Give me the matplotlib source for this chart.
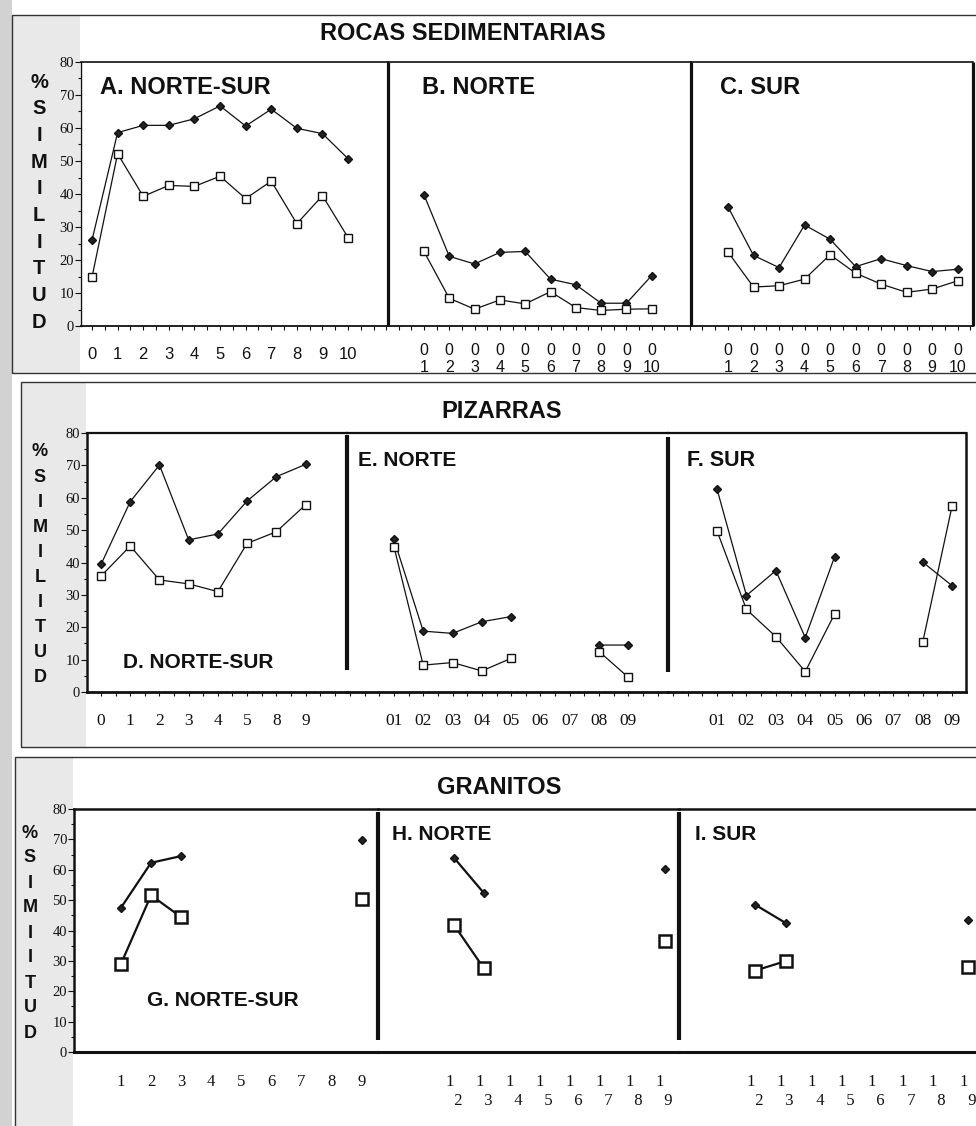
#!/usr/bin/env python3
"""Similitud (%) entre tramos: rocas sedimentarias, pizarras y granitos."""
import numpy as np
import matplotlib

matplotlib.use("Agg")
import matplotlib.pyplot as plt
from matplotlib.patches import Rectangle
from matplotlib.ticker import MultipleLocator, FixedLocator

nan = np.nan

# --- data -----------------------------------------------------------------
A_LABELS = [str(i) for i in range(11)]
A_DIAMOND = [26, 58.6, 60.8, 60.8, 62.8, 66.7, 60.6, 65.7, 59.9, 58.3, 50.7]
A_SQUARE = [14.8, 52.2, 39.3, 42.6, 42.3, 45.4, 38.6, 43.9, 31.0, 39.5, 26.8]

BC_LABELS = ["0\n%d" % i for i in range(1, 11)]
B_DIAMOND = [39.8, 21.1, 18.8, 22.3, 22.6, 14.2, 12.5, 6.9, 6.9, 15.3]
B_SQUARE = [22.6, 8.4, 5.1, 7.9, 6.7, 10.4, 5.6, 4.7, 5.1, 5.2]
C_DIAMOND = [36.1, 21.4, 17.7, 30.6, 26.3, 18.0, 20.4, 18.3, 16.5, 17.2]
C_SQUARE = [22.4, 11.8, 12.2, 14.2, 21.6, 16.0, 12.7, 10.2, 11.2, 13.7]

D_LABELS = ["0", "1", "2", "3", "4", "5", "8", "9"]
D_DIAMOND = [39.4, 58.8, 70.1, 47.0, 48.8, 59.0, 66.5, 70.3]
D_SQUARE = [35.8, 45.1, 34.6, 33.4, 31.0, 45.9, 49.5, 57.8]

EF_LABELS = ["0%d" % i for i in range(1, 10)]
E_DIAMOND = [47.2, 18.8, 18.1, 21.7, 23.3, nan, nan, 14.5, 14.5]
E_SQUARE = [44.9, 8.3, 9.1, 6.5, 10.4, nan, nan, 12.5, 4.5]
F_DIAMOND = [62.6, 29.8, 37.5, 16.8, 41.8, nan, nan, 40.1, 32.8]
F_SQUARE = [49.7, 25.5, 17.1, 6.3, 24.1, nan, nan, 15.5, 57.6]

G_LABELS = [str(i) for i in range(1, 10)]
G_DIAMOND = [47.5, 62.3, 64.5, nan, nan, nan, nan, nan, 69.8]
G_SQUARE = [29.0, 51.6, 44.4, nan, nan, nan, nan, nan, 50.5]

HI_LABELS = ["1  \n  %d" % i for i in range(2, 10)]
H_DIAMOND = [64.0, 52.3, nan, nan, nan, nan, nan, 60.1]
H_SQUARE = [41.9, 27.5, nan, nan, nan, nan, nan, 36.7]
I_DIAMOND = [48.5, 42.5, nan, nan, nan, nan, nan, 43.6]
I_SQUARE = [26.8, 29.9, nan, nan, nan, nan, nan, 27.9]

YLABEL = ["%", "S", "I", "M", "I", "L", "I", "T", "U", "D"]
YLABEL_G = ["%", "S", "I", "M", "I", "I", "T", "U", "D"]

# --- style ----------------------------------------------------------------
W, H = 976, 1126
INK = "#111111"
SANS = "Liberation Sans"
SERIF = "Liberation Serif"
STIPPLE = "#e9e9e9"

plt.rcParams.update({
    "font.family": SANS,
    "axes.edgecolor": INK,
    "xtick.color": INK,
    "ytick.color": INK,
})

fig = plt.figure(figsize=(W / 100, H / 100), dpi=100)
fig.patch.set_facecolor("white")


def fx(x):
    return x / W


def fy(y):
    return 1 - y / H


def px_axes(x0, y0, x1, y1):
    ax = fig.add_axes([fx(x0), fy(y1), (x1 - x0) / W, (y1 - y0) / H])
    ax.set_facecolor("none")
    ax.set_ylim(0, 80)
    for s in ax.spines.values():
        s.set_visible(False)
    ax.set_yticks([])
    return ax


def ftext(x, y, s, **kw):
    fig.text(fx(x), fy(y), s, color=INK, **kw)


def frame(x0, y0, x1, y1, lw=1.0):
    fig.add_artist(Rectangle((fx(x0), fy(y1)), (x1 - x0) / W, (y1 - y0) / H,
                             transform=fig.transFigure, fill=False,
                             edgecolor="#333333", linewidth=lw))


def shade(x0, y0, x1, y1, color=STIPPLE):
    fig.add_artist(Rectangle((fx(x0), fy(y1)), (x1 - x0) / W, (y1 - y0) / H,
                             transform=fig.transFigure, facecolor=color,
                             edgecolor="none", zorder=-5))


def series(ax, x, dia, sq, ms_d=3.8, ms_s=6.0, lw=0.9, mew=1.0):
    ax.plot(x, dia, color=INK, linewidth=lw, marker="D", markersize=ms_d,
            markerfacecolor="#222222", markeredgecolor=INK, zorder=3)
    ax.plot(x, sq, color=INK, linewidth=lw, marker="s", markersize=ms_s,
            markerfacecolor="white", markeredgecolor=INK, markeredgewidth=mew,
            zorder=4)


def yaxis_left(ax, lw, size):
    ax.spines["left"].set_visible(True)
    ax.spines["left"].set_linewidth(lw)
    ax.yaxis.set_major_locator(MultipleLocator(10))
    ax.yaxis.set_minor_locator(MultipleLocator(5))
    ax.tick_params(axis="y", which="major", direction="out", length=4,
                   width=0.8, pad=1, labelsize=size)
    ax.tick_params(axis="y", which="minor", direction="out", length=2.5,
                   width=0.8)
    for t in ax.get_yticklabels():
        t.set_fontfamily(SERIF)


def xaxis(ax, pos, labels, family, size, pad, ticks=True):
    ax.xaxis.set_major_locator(FixedLocator(pos))
    ax.set_xticklabels(labels, fontfamily=family, fontsize=size)
    if ticks:
        ax.xaxis.set_minor_locator(MultipleLocator(0.5))
        ax.tick_params(axis="x", which="both", direction="out", length=3,
                       width=0.8, pad=pad)
    else:
        ax.tick_params(axis="x", which="both", length=0, pad=pad)


def divider(ax, side, lw, y0=0.0, y1=1.0):
    xa = 0 if side == "left" else 1
    ax.plot([xa, xa], [y0, y1], transform=ax.transAxes, color=INK,
            linewidth=lw, clip_on=False, solid_capstyle="butt", zorder=5)


def spine(ax, name, lw):
    ax.spines[name].set_visible(True)
    ax.spines[name].set_linewidth(lw)


def stack(x, y0, step, letters, size):
    for i, ch in enumerate(letters):
        ftext(x, y0 + i * step, ch, ha="center", va="center",
              fontsize=size, fontweight="bold", family=SANS)


# --- background / frames ----------------------------------------------------
shade(0, 0, 12, H, "#d2d2d2")
shade(12, 15, 80, 373)
shade(21, 382, 86, 747)
shade(15, 757, 73, H)
frame(12, 15, 1000, 373)
frame(21, 382, 1000, 747)
frame(15, 757, 1000, 1200)

# --- block 1: rocas sedimentarias -----------------------------------------
ftext(463, 33, "ROCAS SEDIMENTARIAS", ha="center", va="center",
      fontsize=17, fontweight="bold")
stack(39, 82, 26.7, YLABEL, 14.5)

axA = px_axes(81, 62, 388, 326)
axA.set_xlim(-0.43, 11.56)
series(axA, range(len(A_LABELS)), A_DIAMOND, A_SQUARE)
yaxis_left(axA, 1.0, 10.5)
xaxis(axA, range(len(A_LABELS)), A_LABELS, SANS, 12, 12)

axB = px_axes(388, 62, 691, 326)
axB.set_xlim(-0.42, 11.55)
series(axB, range(1, 11), B_DIAMOND, B_SQUARE)
xaxis(axB, range(1, 11), BC_LABELS, SANS, 11.5, 9)

axC = px_axes(691, 62, 973, 326)
axC.set_xlim(-0.45, 10.6)
series(axC, range(1, 11), C_DIAMOND, C_SQUARE)
xaxis(axC, range(1, 11), BC_LABELS, SANS, 11.5, 9)

for ax in (axA, axB, axC):
    spine(ax, "top", 1.2)
    spine(ax, "bottom", 1.3)
for ax in (axA, axB, axC):
    divider(ax, "right", 2.3)

ftext(100, 87, "A. NORTE-SUR", ha="left", va="center", fontsize=17,
      fontweight="bold")
ftext(422, 87, "B. NORTE", ha="left", va="center", fontsize=17,
      fontweight="bold")
ftext(720, 87, "C. SUR", ha="left", va="center", fontsize=17,
      fontweight="bold")

# --- block 2: pizarras ------------------------------------------------------
ftext(502, 412, "PIZARRAS", ha="center", va="center", fontsize=17,
      fontweight="bold")
stack(40, 452, 25.1, YLABEL, 13)

axD = px_axes(87, 433, 347, 692)
axD.set_xlim(-0.48, 8.42)
series(axD, range(len(D_LABELS)), D_DIAMOND, D_SQUARE, ms_d=4, ms_s=5.5)
yaxis_left(axD, 1.8, 10.5)
xaxis(axD, range(len(D_LABELS)), D_LABELS, SERIF, 12.5, 12)

axE = px_axes(347, 433, 668, 692)
axE.set_xlim(-0.6, 10.35)
series(axE, range(1, 10), E_DIAMOND, E_SQUARE, ms_d=4, ms_s=5.5)
xaxis(axE, range(1, 10), EF_LABELS, SERIF, 12.5, 12)

axF = px_axes(668, 433, 966, 692)
axF.set_xlim(-0.67, 9.47)
series(axF, range(1, 10), F_DIAMOND, F_SQUARE, ms_d=4, ms_s=5.5)
xaxis(axF, range(1, 10), EF_LABELS, SERIF, 12.5, 12)

for ax in (axD, axE, axF):
    spine(ax, "top", 1.6)
    spine(ax, "bottom", 2.0)
divider(axE, "left", 3.0, 0.085, 0.992)
divider(axF, "left", 3.0, 0.077, 0.985)
spine(axF, "right", 1.8)

ftext(123, 663, "D. NORTE-SUR", ha="left", va="center", fontsize=15,
      fontweight="bold")
ftext(358, 460, "E. NORTE", ha="left", va="center", fontsize=15,
      fontweight="bold")
ftext(687, 460, "F. SUR", ha="left", va="center", fontsize=15.5,
      fontweight="bold")

# --- block 3: granitos ------------------------------------------------------
ftext(499, 787, "GRANITOS", ha="center", va="center", fontsize=17,
      fontweight="bold")
stack(30, 833, 25.0, YLABEL_G, 13)

kw3 = dict(ms_d=4.4, ms_s=8, lw=1.6, mew=1.8)
axG = px_axes(74, 809, 378, 1052)
axG.set_xlim(-0.56, 9.54)
series(axG, range(1, 10), G_DIAMOND, G_SQUARE, **kw3)
yaxis_left(axG, 1.8, 10.5)
xaxis(axG, range(1, 10), G_LABELS, SERIF, 12, 16, ticks=False)

axH = px_axes(378, 809, 679, 1052)
axH.set_xlim(-0.52, 9.48)
series(axH, range(2, 10), H_DIAMOND, H_SQUARE, **kw3)
xaxis(axH, range(2, 10), HI_LABELS, SERIF, 12, 16, ticks=False)

axI = px_axes(679, 809, 976, 1052)
axI.set_xlim(-0.5, 9.26)
series(axI, range(2, 10), I_DIAMOND, I_SQUARE, **kw3)
xaxis(axI, range(2, 10), HI_LABELS, SERIF, 12, 16, ticks=False)

for ax in (axG, axH, axI):
    spine(ax, "top", 1.8)
    spine(ax, "bottom", 2.2)
divider(axH, "left", 3.0, 0.05, 0.988)
divider(axI, "left", 3.0, 0.05, 0.988)

ftext(147, 1000, "G. NORTE-SUR", ha="left", va="center", fontsize=15,
      fontweight="bold")
ftext(392, 835, "H. NORTE", ha="left", va="center", fontsize=15,
      fontweight="bold")
ftext(695, 835, "I. SUR", ha="left", va="center", fontsize=15,
      fontweight="bold")

fig.savefig("out.png", dpi=100, facecolor="white")
